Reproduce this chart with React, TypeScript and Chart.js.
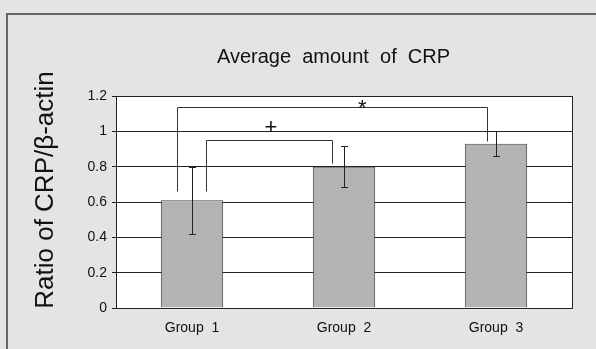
import React, { useEffect, useRef } from "react";
import { Chart, registerables } from "chart.js";

Chart.register(...registerables);

// ---- data ----
const categories = ["Group  1", "Group  2", "Group  3"];
const means = [0.61, 0.8, 0.93];
const errors = [0.19, 0.115, 0.07];
const yTicksMin = 0;
const yTicksMax = 1.2;
const yTickStep = 0.2;

const titleText = "Average  amount  of  CRP";
const yLabelText = "Ratio of CRP/\u03b2-actin";

// significance brackets (x in category index units, y in data units)
const bracketLabels = ["*", "+"];
const bracketX1 = [-0.1, 0.09];
const bracketX2 = [1.94, 0.92];
const bracketTop = [1.14, 0.95];
const bracketLeftBottom = [0.66, 0.66];
const bracketRightBottom = [0.945, 0.82];
const bracketLabelX = [1.12, 0.52];
const bracketLabelY = [1.155, 1.02];

const FONT = "'Liberation Sans', Arial, sans-serif";

const overlayPlugin = {
  id: "overlay",
  beforeDraw(chart: any) {
    const { ctx, chartArea } = chart;
    ctx.save();
    ctx.fillStyle = "#ffffff";
    ctx.fillRect(chartArea.left, chartArea.top, chartArea.right - chartArea.left, chartArea.bottom - chartArea.top);
    ctx.restore();
  },
  afterDatasetsDraw(chart: any) {
    const { ctx, chartArea } = chart;
    const xs = chart.scales.x;
    const ys = chart.scales.y;
    const meta = chart.getDatasetMeta(0);
    const px = (v: number) => Math.round(v) + 0.5;

    ctx.save();
    // error bars
    ctx.strokeStyle = "#222";
    ctx.lineWidth = 1;
    means.forEach((m, i) => {
      const x = px(meta.data[i].x);
      const yt = px(ys.getPixelForValue(m + errors[i]));
      const yb = px(ys.getPixelForValue(m - errors[i]));
      ctx.beginPath();
      ctx.moveTo(x, yt);
      ctx.lineTo(x, yb);
      ctx.moveTo(x - 3.5, yt);
      ctx.lineTo(x + 3.5, yt);
      ctx.moveTo(x - 3.5, yb);
      ctx.lineTo(x + 3.5, yb);
      ctx.stroke();
    });

    // brackets
    ctx.strokeStyle = "#333";
    bracketLabels.forEach((lab, i) => {
      const x1 = px(xs.getPixelForValue(bracketX1[i]));
      const x2 = px(xs.getPixelForValue(bracketX2[i]));
      const yt = px(ys.getPixelForValue(bracketTop[i]));
      const yl = px(ys.getPixelForValue(bracketLeftBottom[i]));
      const yr = px(ys.getPixelForValue(bracketRightBottom[i]));
      ctx.beginPath();
      ctx.moveTo(x1, yl);
      ctx.lineTo(x1, yt);
      ctx.lineTo(x2, yt);
      ctx.lineTo(x2, yr);
      ctx.stroke();
      ctx.fillStyle = "#111";
      ctx.textAlign = "center";
      ctx.textBaseline = "middle";
      ctx.font = lab === "+" ? `22px ${FONT}` : `22px ${FONT}`;
      const ly = ys.getPixelForValue(bracketLabelY[i]) + (lab === "*" ? 5 : 0);
      ctx.fillText(lab, xs.getPixelForValue(bracketLabelX[i]), ly);
    });

    // plot border
    ctx.strokeStyle = "#222";
    ctx.strokeRect(px(chartArea.left), px(chartArea.top), Math.round(chartArea.right - chartArea.left), Math.round(chartArea.bottom - chartArea.top));
    ctx.restore();
  },
  afterDraw(chart: any) {
    const { ctx } = chart;
    ctx.save();
    ctx.fillStyle = "#111";
    ctx.font = `20px ${FONT}`;
    ctx.textAlign = "center";
    ctx.textBaseline = "alphabetic";
    ctx.fillText(titleText, 333.5, 63);

    ctx.translate(53, 190);
    ctx.rotate(-Math.PI / 2);
    ctx.font = `26px ${FONT}`;
    ctx.fillText(yLabelText, 0, 0);
    ctx.restore();
  },
};

export default function App() {
  const ref = useRef<HTMLCanvasElement>(null);
  useEffect(() => {
    if (!ref.current) return;
    const chart = new Chart(ref.current, {
      type: "bar",
      data: {
        labels: categories,
        datasets: [
          {
            data: means,
            backgroundColor: "#b3b3b3",
            borderColor: "#444",
            borderWidth: 1,
            barPercentage: 0.41,
            categoryPercentage: 1,
          },
        ],
      },
      options: {
        responsive: false,
        animation: false,
        layout: { padding: { left: 0, top: 96, right: 24, bottom: 0 } },
        plugins: { legend: { display: false }, title: { display: false }, tooltip: { enabled: false } },
        scales: {
          x: {
            offset: true,
            grid: { display: false, drawTicks: false },
            border: { display: false },
            ticks: { color: "#111", font: { family: FONT, size: 14 }, padding: 12, maxRotation: 0 },
            afterFit: (s: any) => {
              s.height = 41;
            },
          },
          y: {
            min: yTicksMin,
            max: yTicksMax,
            grid: { color: "#222", lineWidth: 1, tickLength: 4 },
            border: { display: false },
            ticks: {
              stepSize: yTickStep,
              color: "#111",
              font: { family: FONT, size: 14 },
              padding: 5,
              callback: (v: any) => String(parseFloat(Number(v).toFixed(2))),
            },
            afterFit: (s: any) => {
              s.width = 116;
            },
          },
        },
      },
      plugins: [overlayPlugin],
    });
    return () => chart.destroy();
  }, []);

  return (
    <div style={{ position: "fixed", left: 0, top: 0, width: 596, height: 349, background: "#e4e4e4", overflow: "hidden" }}>
      <div
        style={{
          position: "absolute",
          left: 6,
          top: 13,
          width: 700,
          height: 500,
          borderTop: "2px solid #666",
          borderLeft: "2px solid #666",
        }}
      />
      <canvas ref={ref} width={596} height={349} style={{ position: "absolute", left: 0, top: 0, width: 596, height: 349 }} />
    </div>
  );
}
